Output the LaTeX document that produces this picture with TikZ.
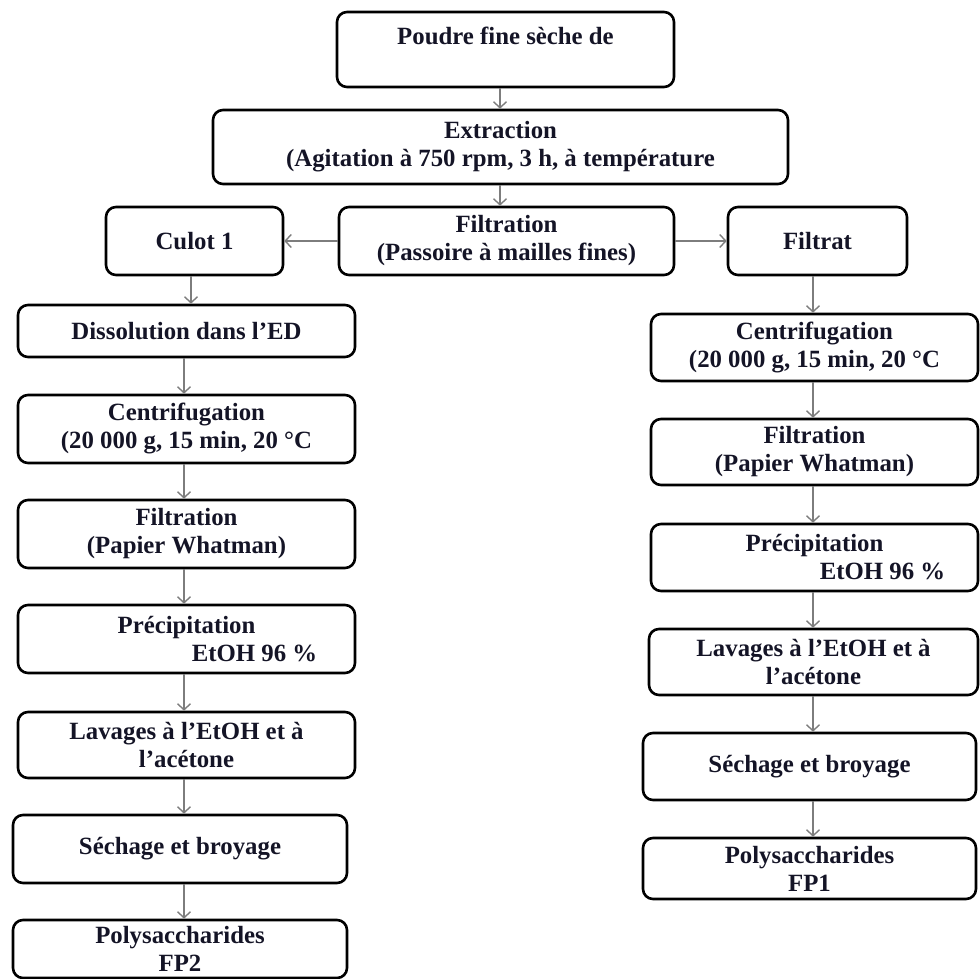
\documentclass[tikz,border=0pt]{standalone}
\usepackage{fontspec}
\setmainfont{Liberation Serif}
\usetikzlibrary{arrows.meta}
\definecolor{ink}{RGB}{20,20,38}
\definecolor{wire}{RGB}{125,125,125}
\tikzset{
  stage/.style={draw=black, line width=2.6pt, rounded corners=10pt, inner sep=0pt,
    align=center, text=ink, font=\fontsize{24.8}{28}\selectfont\bfseries},
  flow/.style={draw=wire, line width=1.4pt, -{Straight Barb[length=6pt,width=13pt]}},
}
\begin{document}
\begin{tikzpicture}[x=1pt,y=-1pt]
\useasboundingbox (0,0) rectangle (980,979);

% common trunk
\node[stage, minimum width=337pt, minimum height=75pt] (poudre) at (505.5,49.5) {Poudre fine sèche de\\\mbox{}};
\node[stage, minimum width=575pt, minimum height=74pt] (extract) at (500.5,147) {Extraction\\(Agitation à 750 rpm, 3 h, à température};
\node[stage, minimum width=335pt, minimum height=68pt] (filtre) at (506.5,241) {Filtration\\(Passoire à mailles fines)};
\node[stage, minimum width=177pt, minimum height=68pt] (culot) at (194.5,241) {Culot 1};
\node[stage, minimum width=179pt, minimum height=68pt] (filtrat) at (817.5,241) {Filtrat};

% left branch
\node[stage, minimum width=337pt, minimum height=52pt] (L1) at (186.5,331) {Dissolution dans l’ED};
\node[stage, minimum width=337pt, minimum height=68pt] (L2) at (186.5,429) {Centrifugation\\(20 000 g, 15 min, 20 °C};
\node[stage, minimum width=337pt, minimum height=68pt] (L3) at (186.5,534) {Filtration\\(Papier Whatman)};
\node[stage, minimum width=337pt, minimum height=68pt] (L4) at (186.5,639) {Précipitation\\\hspace*{136pt}EtOH 96 \%};
\node[stage, minimum width=337pt, minimum height=66pt] (L5) at (186.5,745) {Lavages à l’EtOH et à\\l’acétone};
\node[stage, minimum width=334pt, minimum height=68pt] (L6) at (180,849) {Séchage et broyage};
\node[stage, minimum width=334pt, minimum height=58pt] (L7) at (180,949) {Polysaccharides\\FP2};

% right branch
\node[stage, minimum width=327pt, minimum height=67pt] (R2) at (814.5,347.5) {Centrifugation\\(20 000 g, 15 min, 20 °C};
\node[stage, minimum width=327pt, minimum height=66pt] (R3) at (814.5,452) {Filtration\\(Papier Whatman)};
\node[stage, minimum width=327pt, minimum height=67pt] (R4) at (814.5,557.5) {Précipitation\\\hspace*{136pt}EtOH 96 \%};
\node[stage, minimum width=329pt, minimum height=66pt] (R5) at (813.5,662) {Lavages à l’EtOH et à\\l’acétone};
\node[stage, minimum width=333pt, minimum height=67pt] (R6) at (809.5,766.5) {Séchage et broyage};
\node[stage, minimum width=333pt, minimum height=61pt] (R7) at (809.5,868.5) {Polysaccharides\\FP1};

% connector columns
\coordinate (tx) at (500,0);
\coordinate (cx) at (191,0);
\coordinate (lx) at (184,0);
\coordinate (rx) at (813,0);

\draw[flow] (tx |- poudre.south) -- (tx |- extract.north);
\draw[flow] (tx |- extract.south) -- (tx |- filtre.north);
\draw[flow] (filtre.west) -- (culot.east);
\draw[flow] (filtre.east) -- (filtrat.west);

\draw[flow] (cx |- culot.south) -- (cx |- L1.north);
\draw[flow] (lx |- L1.south) -- (lx |- L2.north);
\draw[flow] (lx |- L2.south) -- (lx |- L3.north);
\draw[flow] (lx |- L3.south) -- (lx |- L4.north);
\draw[flow] (lx |- L4.south) -- (lx |- L5.north);
\draw[flow] (lx |- L5.south) -- (lx |- L6.north);
\draw[flow] (lx |- L6.south) -- (lx |- L7.north);

\draw[flow] (rx |- filtrat.south) -- (rx |- R2.north);
\draw[flow] (rx |- R2.south) -- (rx |- R3.north);
\draw[flow] (rx |- R3.south) -- (rx |- R4.north);
\draw[flow] (rx |- R4.south) -- (rx |- R5.north);
\draw[flow] (rx |- R5.south) -- (rx |- R6.north);
\draw[flow] (rx |- R6.south) -- (rx |- R7.north);
\end{tikzpicture}
\end{document}
